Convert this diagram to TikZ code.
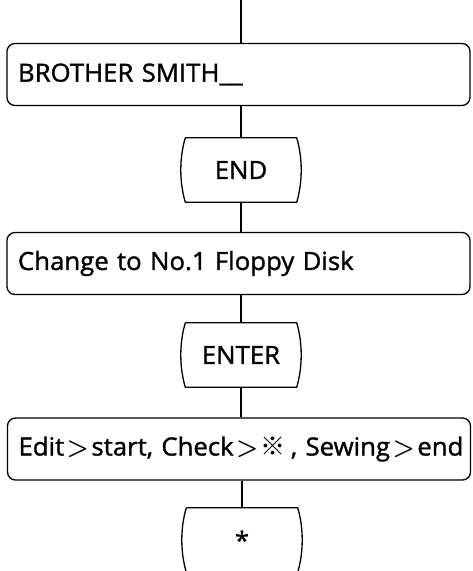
\documentclass[tikz,border=0pt]{standalone}
\usepackage{fontspec}
\usepackage{amsmath}
\newfontfamily\cjkfont{Noto Sans CJK JP}
\newfontfamily\heavyfont{Open Sans}[FakeBold=1.3,FakeStretch=1.03]
\usetikzlibrary{calc}
\tikzset{
  ln/.style={line width=1.3pt, black},
  bigbox/.style={rectangle, rounded corners=8pt, ln, draw, minimum width=463pt, minimum height=62pt,
    text width=441pt, align=left, inner xsep=11pt, inner ysep=0pt, font=\heavyfont\fontsize{25}{28}\selectfont},
  keybox/.style={rectangle, minimum width=111pt, minimum height=64pt, inner sep=0pt,
    font=\heavyfont\fontsize{25}{28}\selectfont},
}
\newcommand{\keyoutline}[1]{%
  \draw[ln] (#1.north west) -- (#1.north east)
    .. controls +(6,20) and +(6,-20) .. (#1.south east)
    -- (#1.south west)
    .. controls +(-6,-20) and +(-6,20) .. (#1.north west);}
\newcommand{\gtsym}{\kern2.5pt$\boldsymbol{>}$\kern2.5pt}
\begin{document}
\begin{tikzpicture}[x=1pt,y=-1pt]
\useasboundingbox (0,0) rectangle (472,571);
\coordinate (top) at (241,0);
\node[bigbox] (b1) at (238.5,74.5) {BROTHER SMITH\_\_};
\node[keybox] (k1) at (241,170) {END};
\keyoutline{k1}
\node[bigbox] (b2) at (238.5,263.5) {Change to No.1 Floppy Disk};
\node[keybox] (k2) at (241,355) {ENTER};
\keyoutline{k2}
\node[bigbox] (b3) at (239,449) {\makebox[441pt][l]{Edit\gtsym start, Check\gtsym{\cjkfont ※}\kern5pt, Sewing\gtsym end}};
\node[keybox] (k3) at (242,540) {*};
\keyoutline{k3}
\draw[ln] (top) -- (top |- b1.north);
\draw[ln] (k1.north) -- (k1.north |- b1.south);
\draw[ln] (k1.south) -- (k1.south |- b2.north);
\draw[ln] (k2.north) -- (k2.north |- b2.south);
\draw[ln] (k2.south) -- (k2.south |- b3.north);
\draw[ln] (k3.north) -- (k3.north |- b3.south);
\end{tikzpicture}
\end{document}
